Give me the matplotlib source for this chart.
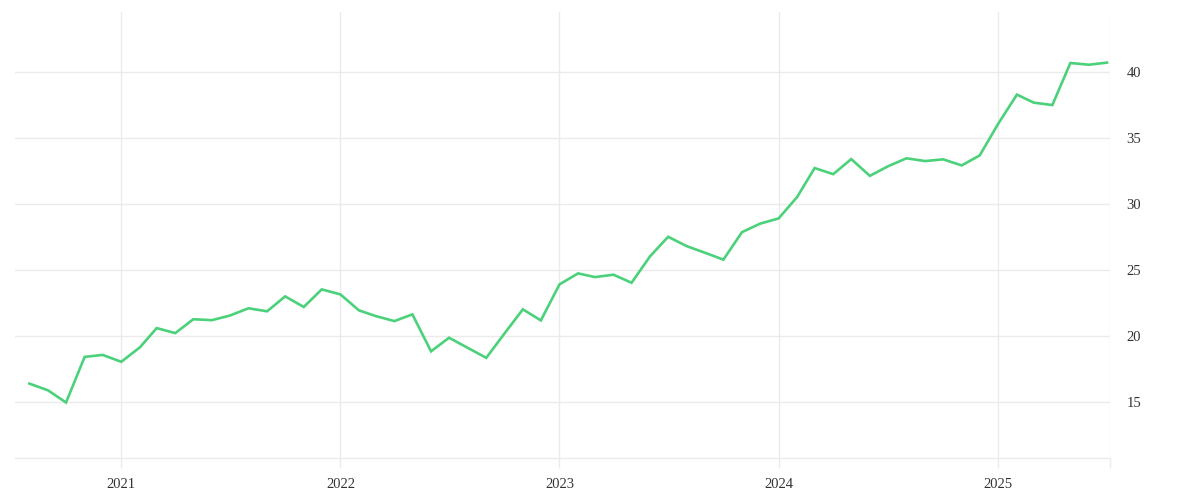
import numpy as np
import pandas as pd
import matplotlib
matplotlib.use("Agg")
import matplotlib.pyplot as plt
import matplotlib.dates as mdates

# --- DATA (monthly values, Aug 2020 - Jul 2025) ---
start_month = "2020-08-01"
values = [
    16.43, 15.92, 15.00, 18.45, 18.60,                                       # 2020
    18.08, 19.17, 20.63, 20.25, 21.30, 21.23, 21.58, 22.13, 21.90, 23.03, 22.23, 23.56,  # 2021
    23.18, 21.97, 21.54, 21.16, 21.67, 18.87, 19.90, 19.14, 18.38, 20.20, 22.05, 21.21,  # 2022
    23.94, 24.77, 24.49, 24.67, 24.06, 26.07, 27.54, 26.83, 26.32, 25.81, 27.89, 28.53,  # 2023
    28.93, 30.56, 32.74, 32.28, 33.42, 32.15, 32.87, 33.48, 33.27, 33.40, 32.94, 33.70,  # 2024
    36.11, 38.30, 37.69, 37.51, 40.69, 40.56, 40.72,                          # 2025
]
dates = pd.date_range(start_month, periods=len(values), freq="MS")

year_ticks = ["2021-01-01", "2022-01-01", "2023-01-01", "2024-01-01", "2025-01-01"]
year_labels = ["2021", "2022", "2023", "2024", "2025"]
y_ticks = [15, 20, 25, 30, 35, 40]

x_min = pd.Timestamp("2020-07-08")
x_max = pd.Timestamp("2025-07-06")
y_min, y_max = 10.8, 44.55

# --- STYLE ---
line_color = "#4cd17b"
grid_color = "#ebebeb"
text_color = "#333333"
plt.rcParams["font.family"] = ["Liberation Serif", "DejaVu Serif"]

fig = plt.figure(figsize=(12, 5), dpi=100)
ax = fig.add_axes([0.0125, 0.084, 0.9125, 0.892])

ax.plot(dates, values, color=line_color, linewidth=1.9, solid_joinstyle="miter", zorder=3)

ax.set_xlim(x_min, x_max)
ax.set_ylim(y_min, y_max)

# year ticks + one unlabelled tick on the right edge
tick_dates = [pd.Timestamp(d) for d in year_ticks] + [x_max]
ax.set_xticks(tick_dates)
ax.set_xticklabels(year_labels + [""])
ax.set_yticks(y_ticks)
ax.set_yticklabels([str(v) for v in y_ticks])

ax.yaxis.tick_right()
ax.grid(True, color=grid_color, linewidth=1.0, zorder=0)
ax.set_axisbelow(True)

ax.tick_params(axis="x", direction="out", length=7.2, width=1.0, color=grid_color,
               pad=7.5, labelsize=10.5, labelcolor=text_color)
ax.tick_params(axis="y", length=0, pad=12, labelsize=10.5, labelcolor=text_color)

for side in ["top", "left", "right"]:
    ax.spines[side].set_visible(False)
ax.spines["bottom"].set_color(grid_color)
ax.spines["bottom"].set_linewidth(1.0)

fig.savefig("out.png", dpi=100, facecolor="white")
